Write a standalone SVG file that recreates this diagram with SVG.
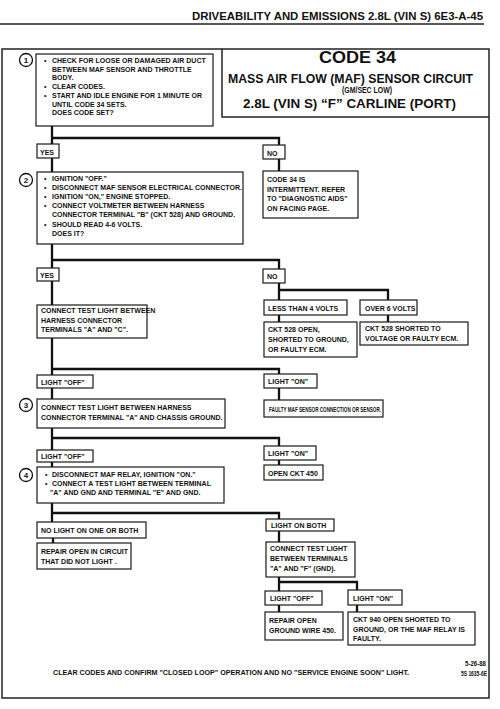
<svg xmlns="http://www.w3.org/2000/svg" width="500" height="709" viewBox="0 0 500 709">
<style>
.b{fill:#fff;stroke:#1a1a1a;stroke-width:1.2}
.t{font-family:"Liberation Sans",Arial,sans-serif;font-weight:bold;font-size:7px;fill:#111}
.h{font-family:"Liberation Sans",Arial,sans-serif;font-weight:bold;fill:#111}
.n{font-family:"Liberation Sans",Arial,sans-serif;font-weight:bold;font-size:8px;fill:#111;text-anchor:middle}
.k{fill:#fff;stroke:#111;stroke-width:1.3}
.c{fill:none;stroke:#111;stroke-width:2.3}
.f{fill:none;stroke:#222;stroke-width:1.5}
</style>
<rect width="500" height="709" fill="#fff"/>
<g id="header">
<text class="h" x="192" y="20" font-size="10.5" textLength="291" lengthAdjust="spacingAndGlyphs">DRIVEABILITY AND EMISSIONS 2.8L (VIN S) 6E3-A-45</text>
<path class="f" d="M0,24 H484"/>
</g>
<g id="frame">
<rect class="f" x="2" y="49" width="487" height="649"/>
</g>
<g id="title">
<path class="f" d="M222,49 V117 H489"/>
<text class="h" x="319" y="63" font-size="16" textLength="77" lengthAdjust="spacingAndGlyphs">CODE 34</text>
<text class="h" x="228" y="83" font-size="12.5" textLength="245" lengthAdjust="spacingAndGlyphs">MASS AIR FLOW (MAF) SENSOR CIRCUIT</text>
<text class="h" x="342" y="93" font-size="9" textLength="50" lengthAdjust="spacingAndGlyphs">(GM/SEC LOW)</text>
<text class="h" x="243" y="108" font-size="12" textLength="213" lengthAdjust="spacingAndGlyphs">2.8L  (VIN S)  “F”  CARLINE  (PORT)</text>
</g>
<g id="connectors">
<path class="c" d="M52,126 V144 M52,138 H279 V145 M52,158 V172 M279,159 V171"/>
<path class="c" d="M52,244 V268 M52,260 H279 V269 M279,283 V300 M279,290 H388 V300 M279,315 V322 M388,315 V322"/>
<path class="c" d="M52,281 V305 M52,338 V375 M52,369 H279 V374 M52,388 V399 M279,388 V400"/>
<path class="c" d="M52,428 V450 M52,438 H279 V446 M52,462 V467 M279,460 V465"/>
<path class="c" d="M52,503 V522 M52,513 H279 V519 M53,538 V543 M279,531 V542"/>
<path class="c" d="M279,577 V591 M279,582 H357 V590 M279,605 V612 M357,605 V612"/>
</g>
<g id="step1">
<circle class="k" cx="26" cy="60" r="6.5"/><text class="n" x="26" y="63">1</text>
<rect class="b" x="36" y="54" width="177" height="72"/>
<text class="t" x="44" y="63">•</text><text class="t" x="52" y="63">CHECK FOR LOOSE OR DAMAGED AIR DUCT</text>
<text class="t" x="52" y="71.7">BETWEEN MAF SENSOR AND THROTTLE</text>
<text class="t" x="52" y="80.4">BODY.</text>
<text class="t" x="44" y="89.1">•</text><text class="t" x="52" y="89.1">CLEAR CODES.</text>
<text class="t" x="44" y="97.8">•</text><text class="t" x="52" y="97.8">START AND IDLE ENGINE FOR 1 MINUTE OR</text>
<text class="t" x="52" y="106.5">UNTIL CODE 34 SETS.</text>
<text class="t" x="52" y="115.2">DOES CODE SET?</text>
</g>
<g id="yes1"><rect class="b" x="37" y="144" width="22" height="14"/><text class="t" x="40" y="154.5">YES</text></g>
<g id="no1"><rect class="b" x="263" y="145" width="22" height="14"/><text class="t" x="267" y="155.5">NO</text></g>
<g id="intermittent">
<rect class="b" x="263" y="171" width="95" height="47"/>
<text class="t" x="267" y="182">CODE 34 IS</text>
<text class="t" x="267" y="191.5">INTERMITTENT.  REFER</text>
<text class="t" x="267" y="201">TO "DIAGNOSTIC AIDS"</text>
<text class="t" x="267" y="210.5">ON FACING PAGE.</text>
</g>
<g id="step2">
<circle class="k" cx="26" cy="180" r="6.5"/><text class="n" x="26" y="183">2</text>
<rect class="b" x="37" y="172" width="206" height="72"/>
<text class="t" x="44" y="181">•</text><text class="t" x="52" y="181">IGNITION "OFF."</text>
<text class="t" x="44" y="190.1">•</text><text class="t" x="52" y="190.1">DISCONNECT MAF SENSOR ELECTRICAL CONNECTOR.</text>
<text class="t" x="44" y="199.2">•</text><text class="t" x="52" y="199.2">IGNITION "ON," ENGINE STOPPED.</text>
<text class="t" x="44" y="208.3">•</text><text class="t" x="52" y="208.3">CONNECT VOLTMETER BETWEEN HARNESS</text>
<text class="t" x="52" y="217.4">CONNECTOR TERMINAL "B" (CKT 528) AND GROUND.</text>
<text class="t" x="44" y="226.5">•</text><text class="t" x="52" y="226.5">SHOULD READ 4-6 VOLTS.</text>
<text class="t" x="52" y="235.6">DOES IT?</text>
</g>
<g id="yes2"><rect class="b" x="37" y="268" width="22" height="13"/><text class="t" x="40" y="277.5">YES</text></g>
<g id="no2"><rect class="b" x="263" y="269" width="22" height="14"/><text class="t" x="267" y="279">NO</text></g>
<g id="less4"><rect class="b" x="264" y="300" width="83" height="15"/><text class="t" x="268" y="310.5">LESS THAN 4 VOLTS</text></g>
<g id="over6"><rect class="b" x="360" y="300" width="57" height="15"/><text class="t" x="365" y="310.5">OVER 6 VOLTS</text></g>
<g id="ckt528open">
<rect class="b" x="264" y="322" width="93" height="35"/>
<text class="t" x="268" y="332">CKT 528 OPEN,</text>
<text class="t" x="268" y="342">SHORTED TO GROUND,</text>
<text class="t" x="268" y="352">OR FAULTY ECM.</text>
</g>
<g id="ckt528short">
<rect class="b" x="360" y="322" width="108" height="23"/>
<text class="t" x="365" y="331">CKT 528 SHORTED TO</text>
<text class="t" x="365" y="340.5">VOLTAGE OR FAULTY ECM.</text>
</g>
<g id="testAC">
<rect class="b" x="37" y="305" width="110" height="33"/>
<text class="t" x="41" y="313">CONNECT TEST LIGHT BETWEEN</text>
<text class="t" x="41" y="322.5">HARNESS CONNECTOR</text>
<text class="t" x="41" y="332">TERMINALS "A" AND "C".</text>
</g>
<g id="off1"><rect class="b" x="37" y="375" width="56" height="13"/><text class="t" x="41" y="384.5">LIGHT "OFF"</text></g>
<g id="on1"><rect class="b" x="264" y="374" width="53" height="14"/><text class="t" x="268" y="384">LIGHT "ON"</text></g>
<g id="faultymaf"><rect class="b" x="264" y="400" width="119" height="17"/><text class="t" x="269" y="411.5" font-size="6.6" textLength="112" lengthAdjust="spacingAndGlyphs">FAULTY MAF SENSOR CONNECTION OR SENSOR.</text></g>
<g id="step3">
<circle class="k" cx="26" cy="405" r="6.5"/><text class="n" x="26" y="408">3</text>
<rect class="b" x="37" y="399" width="188" height="29"/>
<text class="t" x="41" y="410">CONNECT TEST LIGHT BETWEEN HARNESS</text>
<text class="t" x="41" y="420">CONNECTOR TERMINAL "A" AND CHASSIS GROUND.</text>
</g>
<g id="off2"><rect class="b" x="37" y="450" width="56" height="12"/><text class="t" x="41" y="459">LIGHT "OFF"</text></g>
<g id="on2"><rect class="b" x="264" y="446" width="52" height="14"/><text class="t" x="268" y="456">LIGHT "ON"</text></g>
<g id="openckt450"><rect class="b" x="264" y="465" width="59" height="15"/><text class="t" x="268" y="475.5">OPEN CKT 450</text></g>
<g id="step4">
<circle class="k" cx="26" cy="475" r="6.5"/><text class="n" x="26" y="478">4</text>
<rect class="b" x="37" y="467" width="187" height="36"/>
<text class="t" x="45" y="477">•</text><text class="t" x="52" y="477">DISCONNECT MAF RELAY, IGNITION "ON."</text>
<text class="t" x="45" y="486">•</text><text class="t" x="52" y="486">CONNECT A TEST LIGHT BETWEEN TERMINAL</text>
<text class="t" x="50" y="495">"A"  AND GND  AND TERMINAL "E" AND GND.</text>
</g>
<g id="nolight"><rect class="b" x="37" y="522" width="109" height="16"/><text class="t" x="41" y="533">NO LIGHT ON ONE OR BOTH</text></g>
<g id="repaircircuit">
<rect class="b" x="37" y="543" width="94" height="26"/>
<text class="t" x="41" y="554">REPAIR OPEN IN CIRCUIT</text>
<text class="t" x="41" y="564">THAT DID NOT LIGHT .</text>
</g>
<g id="lightboth"><rect class="b" x="266" y="519" width="68" height="12"/><text class="t" x="271" y="528">LIGHT ON BOTH</text></g>
<g id="testAF">
<rect class="b" x="266" y="542" width="89" height="35"/>
<text class="t" x="270" y="551">CONNECT TEST LIGHT</text>
<text class="t" x="270" y="561">BETWEEN TERMINALS</text>
<text class="t" x="270" y="571">"A"  AND  "F" (GND).</text>
</g>
<g id="off3"><rect class="b" x="265" y="591" width="57" height="14"/><text class="t" x="270" y="601">LIGHT "OFF"</text></g>
<g id="on3"><rect class="b" x="348" y="590" width="54" height="15"/><text class="t" x="353" y="600.5">LIGHT "ON"</text></g>
<g id="repairground">
<rect class="b" x="265" y="612" width="78" height="28"/>
<text class="t" x="269" y="623">REPAIR OPEN</text>
<text class="t" x="269" y="633">GROUND WIRE 450.</text>
</g>
<g id="ckt940">
<rect class="b" x="348" y="612" width="127" height="33"/>
<text class="t" x="353" y="622">CKT 940 OPEN SHORTED TO</text>
<text class="t" x="353" y="631.5">GROUND, OR THE MAF  RELAY IS</text>
<text class="t" x="353" y="641">FAULTY.</text>
</g>
<g id="footer">
<text class="t" x="53" y="675" textLength="356" lengthAdjust="spacingAndGlyphs">CLEAR CODES AND CONFIRM "CLOSED LOOP"  OPERATION AND NO "SERVICE ENGINE SOON" LIGHT.</text>
<text class="h" x="465" y="666" font-size="6.5" font-weight="normal" textLength="21" lengthAdjust="spacingAndGlyphs">5-26-88</text>
<text class="h" x="461" y="676" font-size="6.5" font-weight="normal" textLength="26" lengthAdjust="spacingAndGlyphs">5S 1635-6E</text>
</g>
</svg>
